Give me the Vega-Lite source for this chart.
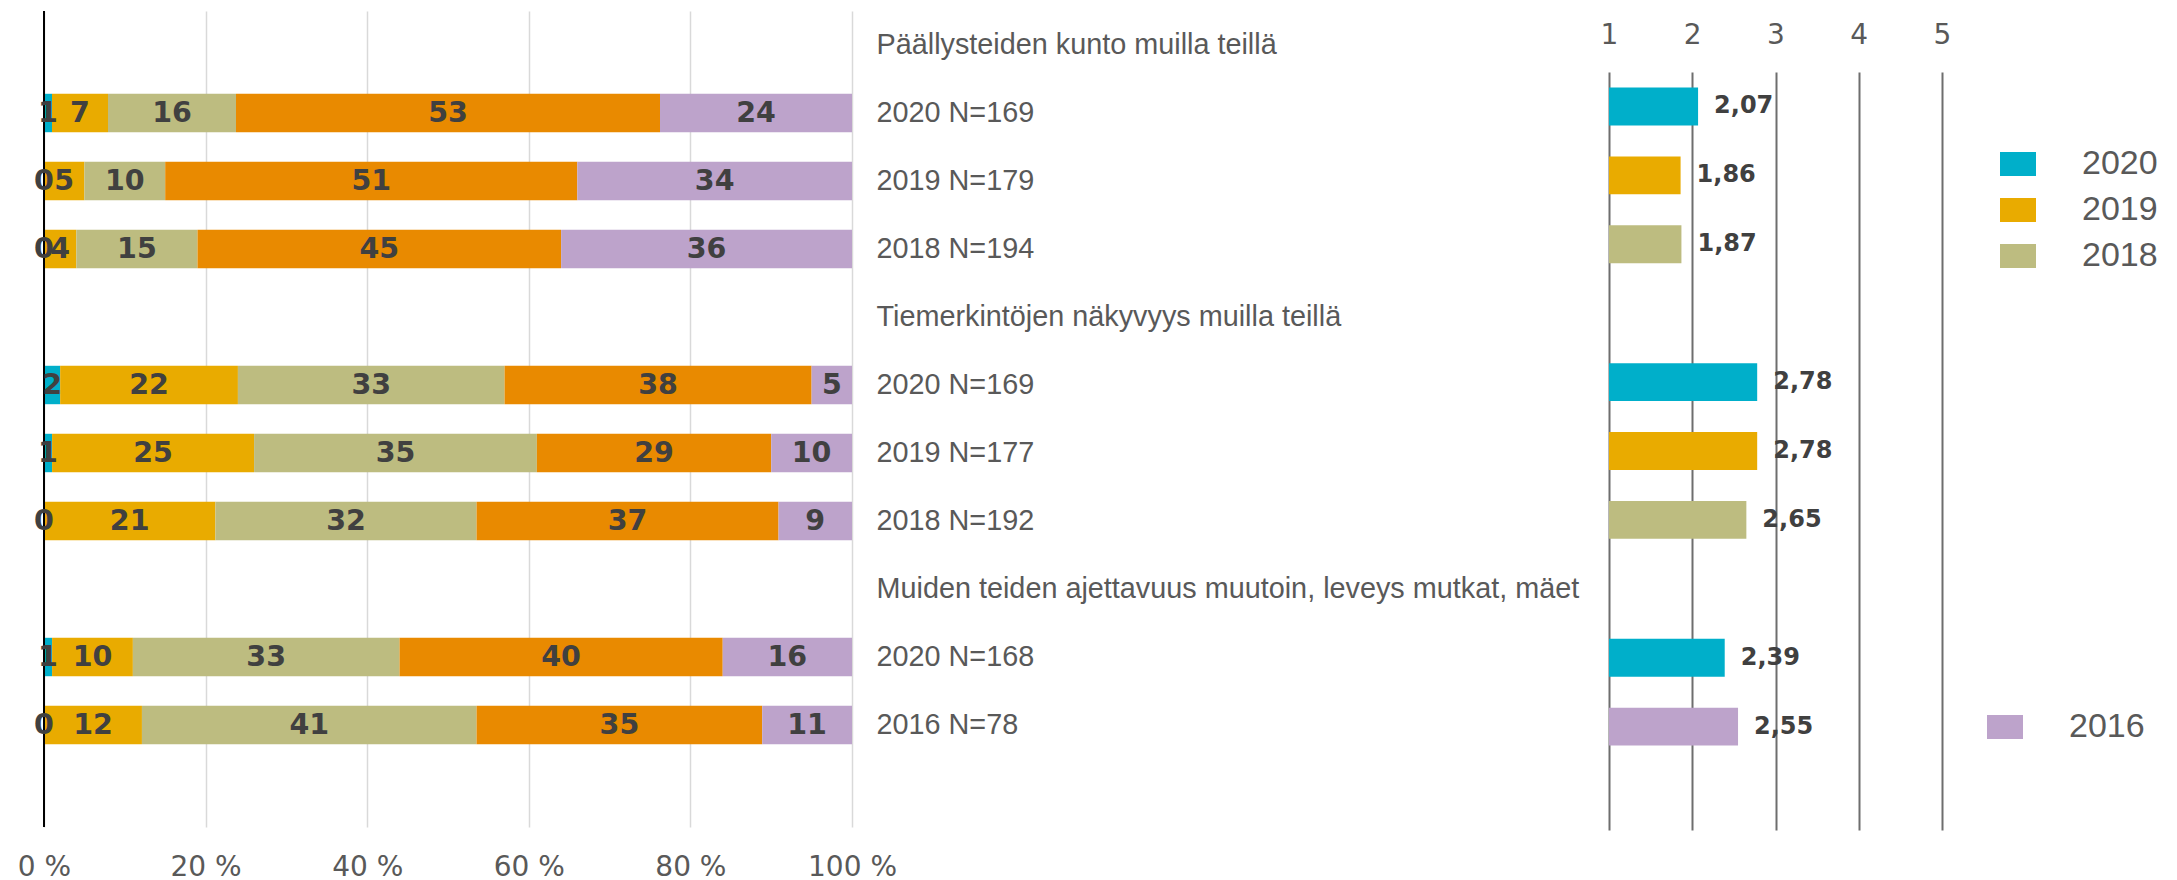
{
  "$schema": "https://vega.github.io/schema/vega-lite/v6.json",
  "background": "white",
  "padding": {"left": 17, "top": 10, "right": 0, "bottom": 0},
  "bounds": "flush",
  "spacing": 757,
  "config": {
    "view": {"stroke": null},
    "locale": {"number": {"decimal": ",", "thousands": " ", "grouping": [3], "currency": ["", " €"]}}
  },
  "resolve": {"scale": {"color": "independent"}},
  "datasets": {
    "pct": [
      {"row": "2020 N=169|a1", "cat": "1", "value": 1},
      {"row": "2020 N=169|a1", "cat": "2", "value": 7},
      {"row": "2020 N=169|a1", "cat": "3", "value": 16},
      {"row": "2020 N=169|a1", "cat": "4", "value": 53},
      {"row": "2020 N=169|a1", "cat": "5", "value": 24},
      {"row": "2019 N=179|a2", "cat": "1", "value": 0},
      {"row": "2019 N=179|a2", "cat": "2", "value": 5},
      {"row": "2019 N=179|a2", "cat": "3", "value": 10},
      {"row": "2019 N=179|a2", "cat": "4", "value": 51},
      {"row": "2019 N=179|a2", "cat": "5", "value": 34},
      {"row": "2018 N=194|a3", "cat": "1", "value": 0},
      {"row": "2018 N=194|a3", "cat": "2", "value": 4},
      {"row": "2018 N=194|a3", "cat": "3", "value": 15},
      {"row": "2018 N=194|a3", "cat": "4", "value": 45},
      {"row": "2018 N=194|a3", "cat": "5", "value": 36},
      {"row": "2020 N=169|b1", "cat": "1", "value": 2},
      {"row": "2020 N=169|b1", "cat": "2", "value": 22},
      {"row": "2020 N=169|b1", "cat": "3", "value": 33},
      {"row": "2020 N=169|b1", "cat": "4", "value": 38},
      {"row": "2020 N=169|b1", "cat": "5", "value": 5},
      {"row": "2019 N=177|b2", "cat": "1", "value": 1},
      {"row": "2019 N=177|b2", "cat": "2", "value": 25},
      {"row": "2019 N=177|b2", "cat": "3", "value": 35},
      {"row": "2019 N=177|b2", "cat": "4", "value": 29},
      {"row": "2019 N=177|b2", "cat": "5", "value": 10},
      {"row": "2018 N=192|b3", "cat": "1", "value": 0},
      {"row": "2018 N=192|b3", "cat": "2", "value": 21},
      {"row": "2018 N=192|b3", "cat": "3", "value": 32},
      {"row": "2018 N=192|b3", "cat": "4", "value": 37},
      {"row": "2018 N=192|b3", "cat": "5", "value": 9},
      {"row": "2020 N=168|c1", "cat": "1", "value": 1},
      {"row": "2020 N=168|c1", "cat": "2", "value": 10},
      {"row": "2020 N=168|c1", "cat": "3", "value": 33},
      {"row": "2020 N=168|c1", "cat": "4", "value": 40},
      {"row": "2020 N=168|c1", "cat": "5", "value": 16},
      {"row": "2016 N=78|c2", "cat": "1", "value": 0},
      {"row": "2016 N=78|c2", "cat": "2", "value": 12},
      {"row": "2016 N=78|c2", "cat": "3", "value": 41},
      {"row": "2016 N=78|c2", "cat": "4", "value": 35},
      {"row": "2016 N=78|c2", "cat": "5", "value": 11}
    ],
    "means": [
      {"row": "2020 N=169|a1", "year": "2020", "mean": 2.07},
      {"row": "2019 N=179|a2", "year": "2019", "mean": 1.86},
      {"row": "2018 N=194|a3", "year": "2018", "mean": 1.87},
      {"row": "2020 N=169|b1", "year": "2020", "mean": 2.78},
      {"row": "2019 N=177|b2", "year": "2019", "mean": 2.78},
      {"row": "2018 N=192|b3", "year": "2018", "mean": 2.65},
      {"row": "2020 N=168|c1", "year": "2020", "mean": 2.39},
      {"row": "2016 N=78|c2", "year": "2016", "mean": 2.55}
    ]
  },
  "hconcat": [
    {
      "width": 808,
      "height": 816,
      "layer": [
        {
          "data": {"name": "pct"},
          "transform": [
            {"stack": "value", "groupby": ["row"], "sort": [{"field": "cat", "order": "ascending"}], "offset": "normalize", "as": ["s0", "s1"]}
          ],
          "mark": {"type": "bar"},
          "encoding": {
            "y": {
              "field": "row", "type": "nominal",
              "scale": {"domain": ["Päällysteiden kunto muilla teillä|a0", "2020 N=169|a1", "2019 N=179|a2", "2018 N=194|a3", "Tiemerkintöjen näkyvyys muilla teillä|b0", "2020 N=169|b1", "2019 N=177|b2", "2018 N=192|b3", "Muiden teiden ajettavuus muutoin, leveys mutkat, mäet|c0", "2020 N=168|c1", "2016 N=78|c2", "|end"], "paddingInner": 0.435, "paddingOuter": 0.2175},
              "axis": {"orient": "right", "labelExpr": "split(datum.value, '|')[0]", "ticks": false, "domain": false, "grid": false, "labelPadding": 24, "labelAlign": "left", "labelBaseline": "middle", "labelFont": "Liberation Sans", "labelFontSize": 28.8, "labelColor": "#595959", "labelLimit": 0, "labelOverlap": false, "title": null}
            },
            "x": {
              "field": "s0", "type": "quantitative",
              "scale": {"domain": [0, 1], "nice": false},
              "axis": {"orient": "bottom", "values": [0, 0.2, 0.4, 0.6, 0.8, 1], "labelExpr": "round(datum.value * 100) + ' %'", "grid": true, "gridColor": "#D9D9D9", "gridWidth": 1.5, "domain": false, "ticks": false, "labelFont": "DejaVu Sans", "labelFontSize": 28, "labelColor": "#595959", "labelPadding": 48, "labelBaseline": "alphabetic", "labelFlush": false, "labelOverlap": false, "title": null}
            },
            "x2": {"field": "s1"},
            "color": {"field": "cat", "type": "nominal", "scale": {"domain": ["1", "2", "3", "4", "5"], "range": ["#00AFCA", "#E9AB00", "#BDBC80", "#E98A00", "#BDA3CB"]}, "legend": null}
          }
        },
        {
          "data": {"values": [{}]},
          "mark": {"type": "rule", "color": "#000000", "strokeWidth": 2},
          "encoding": {"x": {"datum": 0}}
        },
        {
          "data": {"name": "pct"},
          "transform": [
            {"stack": "value", "groupby": ["row"], "sort": [{"field": "cat", "order": "ascending"}], "offset": "normalize", "as": ["s0", "s1"]},
            {"calculate": "(datum.s0 + datum.s1) / 2", "as": "mid"}
          ],
          "mark": {"type": "text", "font": "DejaVu Sans", "fontWeight": "bold", "fontSize": 28.5, "color": "#404040", "baseline": "middle", "align": "center"},
          "encoding": {
            "y": {"field": "row", "type": "nominal"},
            "x": {"field": "mid", "type": "quantitative"},
            "text": {"field": "value", "type": "quantitative", "format": "d"}
          }
        }
      ]
    },
    {
      "vconcat": [
        {
          "width": 333,
          "height": 61,
          "data": {"values": []},
          "mark": "point"
        },
        {
          "width": 333,
          "height": 758,
          "data": {"name": "means"},
          "encoding": {
            "y": {"field": "row", "type": "nominal", "scale": {"domain": ["2020 N=169|a1", "2019 N=179|a2", "2018 N=194|a3", "Tiemerkintöjen näkyvyys muilla teillä|b0", "2020 N=169|b1", "2019 N=177|b2", "2018 N=192|b3", "Muiden teiden ajettavuus muutoin, leveys mutkat, mäet|c0", "2020 N=168|c1", "2016 N=78|c2", "|end"], "paddingInner": 0.45, "paddingOuter": 0.225}, "axis": null},
            "x": {"field": "mean", "type": "quantitative", "scale": {"domain": [1, 5], "nice": false, "zero": false},
              "axis": {"orient": "top", "values": [1, 2, 3, 4, 5], "format": "d", "grid": true, "gridColor": "#6E6E6E", "gridWidth": 2, "domain": false, "ticks": false, "tickSize": 0, "labelFont": "DejaVu Sans", "labelFontSize": 28, "labelColor": "#595959", "labelPadding": 29, "labelBaseline": "alphabetic", "labelFlush": false, "labelOverlap": false, "title": null}}
          },
          "layer": [
            {
              "transform": [{"filter": "datum.year != '2016'"}],
              "mark": {"type": "bar"},
              "encoding": {
                "x2": {"datum": 1},
                "color": {"field": "year", "type": "nominal", "scale": {"domain": ["2020", "2019", "2018"], "range": ["#00AFCA", "#E9AB00", "#BDBC80"]},
                  "legend": {"orient": "none", "legendX": 391, "legendY": 74, "title": null, "symbolType": "M-1,-0.667H1V0.667H-1Z", "symbolSize": 1296, "symbolStrokeWidth": 0, "symbolOpacity": 1, "labelFont": "Liberation Sans", "labelFontSize": 34, "labelColor": "#595959", "labelOffset": 46, "rowPadding": 11}}
              }
            },
            {
              "transform": [{"filter": "datum.year == '2016'"}],
              "mark": {"type": "bar"},
              "encoding": {
                "x2": {"datum": 1},
                "color": {"field": "year", "type": "nominal", "scale": {"domain": ["2016"], "range": ["#BDA3CB"]},
                  "legend": {"orient": "none", "legendX": 378, "legendY": 637, "title": null, "symbolType": "M-1,-0.667H1V0.667H-1Z", "symbolSize": 1296, "symbolStrokeWidth": 0, "symbolOpacity": 1, "labelFont": "Liberation Sans", "labelFontSize": 34, "labelColor": "#595959", "labelOffset": 46}}
              }
            },
            {
              "mark": {"type": "text", "align": "left", "baseline": "middle", "dx": 16, "font": "DejaVu Sans", "fontWeight": "bold", "fontSize": 24, "color": "#404040"},
              "encoding": {"text": {"field": "mean", "type": "quantitative", "format": ".2f"}}
            }
          ],
          "resolve": {"scale": {"color": "independent"}}
        }
      ],
      "spacing": 0,
      "bounds": "flush",
      "resolve": {"scale": {"color": "independent"}}
    }
  ]
}
